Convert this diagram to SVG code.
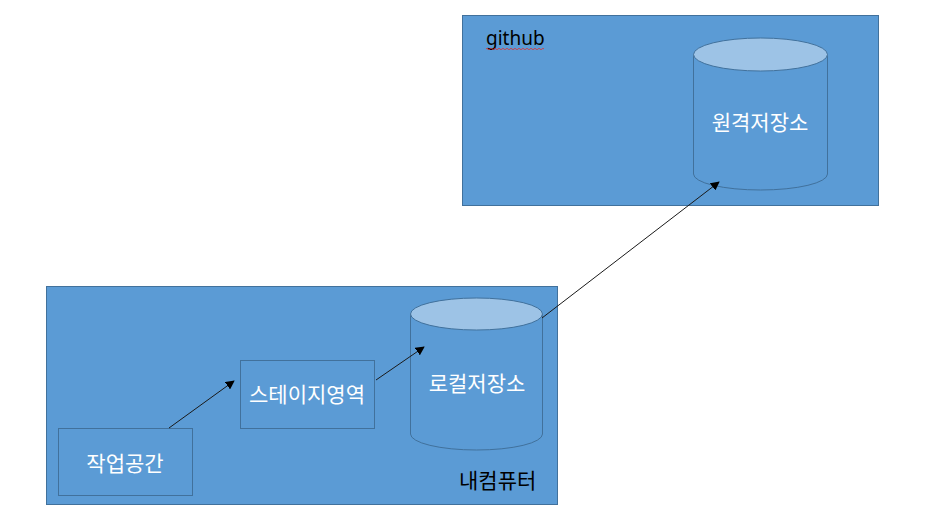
<svg xmlns="http://www.w3.org/2000/svg" width="936" height="515" viewBox="0 0 936 515">
<style>
.box{fill:#5B9BD5;stroke:#41719C;stroke-width:1}
.top{fill:#9DC3E6;stroke:#41719C;stroke-width:1}
.wt{fill:#fff;font-family:"Noto Sans CJK KR","Noto Sans",sans-serif;font-size:21px;text-anchor:middle;dominant-baseline:central}
.bt{fill:#000;font-family:"Noto Sans CJK KR","Noto Sans",sans-serif;font-size:21px}
.gt{fill:#000;font-family:"Noto Sans","Noto Sans CJK KR",sans-serif;font-size:19px}
.cn{stroke:#1a1a1a;stroke-width:1;fill:none;marker-end:url(#ah)}
</style>
<defs>
<marker id="ah" viewBox="0 0 10 10" refX="9" refY="5" markerWidth="9" markerHeight="9" markerUnits="userSpaceOnUse" orient="auto">
<path d="M0,0 L10,5 L0,10 z" fill="#000"/>
</marker>
</defs>
<g id="github">
<rect class="box" x="462.500" y="15.500" width="416" height="190"/>
<text class="gt" x="486" y="45">github</text>
<path d="M486,49 q1,-1.500 2,0 q1,1.500 2,0 q1,-1.500 2,0 q1,1.500 2,0 q1,-1.500 2,0 q1,1.500 2,0 q1,-1.500 2,0 q1,1.500 2,0 q1,-1.500 2,0 q1,1.500 2,0 q1,-1.500 2,0 q1,1.500 2,0 q1,-1.500 2,0 q1,1.500 2,0 q1,-1.500 2,0 q1,1.500 2,0 q1,-1.500 2,0 q1,1.500 2,0 q1,-1.500 2,0 q1,1.500 2,0 q1,-1.500 2,0 q1,1.500 2,0 q1,-1.500 2,0 q1,1.500 2,0 q1,-1.500 2,0 q1,1.500 2,0 q1,-1.500 2,0 q1,1.500 2,0 q1,-1.500 2,0" stroke="#e03030" stroke-width="0.8" fill="none"/>
</g>
<g id="remote">
<path class="box" d="M693.500,54.500 V174 A67,16 0 0 0 827.500,174 V54.500"/>
<ellipse class="top" cx="760.500" cy="54.500" rx="67" ry="16.500"/>
<text class="wt" x="760" y="121">원격저장소</text>
</g>
<g id="mycomputer">
<rect class="box" x="46.500" y="286.500" width="511" height="218"/>
<text class="bt" x="459" y="488">내컴퓨터</text>
</g>
<g id="local">
<path class="box" d="M410.500,314 V434 A66,16 0 0 0 542.500,434 V314"/>
<ellipse class="top" cx="476.500" cy="314" rx="66" ry="16"/>
<text class="wt" x="477" y="382">로컬저장소</text>
</g>
<g id="stage">
<rect class="box" x="240.500" y="360.500" width="134" height="68"/>
<text class="wt" x="307" y="393">스테이지영역</text>
</g>
<g id="work">
<rect class="box" x="58.500" y="428.500" width="134" height="67"/>
<text class="wt" x="125" y="462">작업공간</text>
</g>
<g id="connectors">
<line class="cn" x1="169" y1="428" x2="234" y2="381"/>
<line class="cn" x1="376" y1="380" x2="424" y2="347"/>
<line class="cn" x1="542" y1="318" x2="719" y2="182"/>
</g>
</svg>
